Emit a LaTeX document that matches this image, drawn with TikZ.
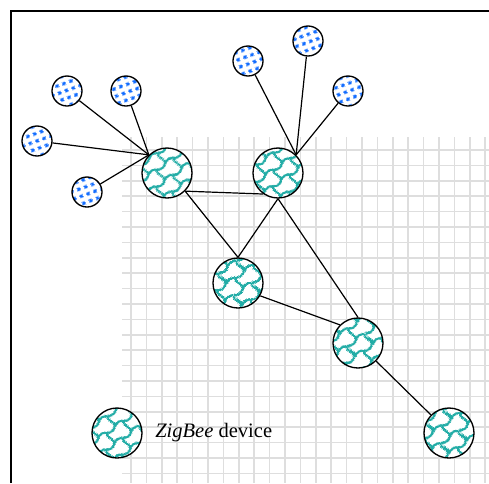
\documentclass[tikz,border=0pt]{standalone}
\usepackage{fontspec}
\setmainfont{Liberation Serif}
\usetikzlibrary{patterns.meta}

\definecolor{zteal}{RGB}{34,172,166}
\definecolor{zblue}{RGB}{20,110,255}
\definecolor{gridgray}{RGB}{222,222,222}

% small square dots, tilted lattice (end devices)
\tikzdeclarepattern{
  name=zbdots, type=uncolored,
  bottom left={(0pt,0pt)}, top right={(5.6pt,5.6pt)},
  tile size={(5.6pt,5.6pt)},
  tile transformation={rotate=20},
  code={\fill (1.3pt,1.3pt) rectangle (4.2pt,4.2pt);}
}

% wavy brick scales (ZigBee devices)
\tikzdeclarepattern{
  name=zscales, type=uncolored,
  bottom left={(0pt,0pt)}, top right={(16pt,20pt)},
  tile size={(16pt,20pt)},
  tile transformation={rotate=35},
  code={
    \draw[line width=1.8pt]
      (0pt,5pt) .. controls (2.7pt,7pt) and (5.3pt,7pt) .. (8pt,5pt)
                .. controls (10.7pt,3pt) and (13.3pt,3pt) .. (16pt,5pt)
      (0pt,15pt) .. controls (2.7pt,13pt) and (5.3pt,13pt) .. (8pt,15pt)
                 .. controls (10.7pt,17pt) and (13.3pt,17pt) .. (16pt,15pt)
      (0pt,5pt) .. controls (3pt,8pt) and (-3pt,12pt) .. (0pt,15pt)
      (16pt,5pt) .. controls (19pt,8pt) and (13pt,12pt) .. (16pt,15pt)
      (8pt,15pt) .. controls (11pt,18pt) and (5pt,22pt) .. (8pt,25pt)
      (8pt,-5pt) .. controls (11pt,-2pt) and (5pt,2pt) .. (8pt,5pt);
  }
}

\tikzset{
  zbdev/.style={circle, draw, line width=1pt, minimum size=37.5pt, inner sep=0pt,
    preaction={fill=white}, pattern=zscales, pattern color=zteal},
  enddev/.style={circle, draw, line width=1pt, minimum size=22.5pt, inner sep=0pt,
    preaction={fill=white}, pattern=zbdots, pattern color=zblue},
  link/.style={line width=0.9pt},
  gridline/.style={draw=gridgray, line width=1.3pt}
}

\begin{document}
\begin{tikzpicture}[x=0.75pt, y=-0.75pt]
\useasboundingbox (0,0) rectangle (489,483);

% background grid
\foreach \i in {0,...,23}
  \draw[gridline] ({131+15.4*\i},137) -- ({131+15.4*\i},483);
\foreach \j in {0,...,21}
  \draw[gridline] (122,{150+15.4*\j}) -- (489,{150+15.4*\j});

% frame
\draw[line width=1.5pt] (11,483) -- (11,11) -- (489,11);

% ZigBee devices
\node[zbdev] (A) at (167,173) {};
\node[zbdev] (B) at (278,173) {};
\node[zbdev] (C) at (238,283) {};
\node[zbdev] (D) at (358,343) {};
\node[zbdev] (E) at (449,433) {};

% end devices
\node[enddev] (s1) at (67,91) {};
\node[enddev] (s2) at (126,91) {};
\node[enddev] (s3) at (37,141) {};
\node[enddev] (s4) at (87,192) {};
\node[enddev] (s5) at (248,61) {};
\node[enddev] (s6) at (308,41) {};
\node[enddev] (s7) at (348,91) {};

% links
\foreach \s in {s1,s2,s3,s4} \draw[link] (\s) -- (A.north west);
\foreach \s in {s5,s6,s7} \draw[link] (\s) -- (B.north east);
\draw[link] (A.south east) -- (B.235);
\draw[link] (A.south east) -- (C.north);
\draw[link] (B.south) -- (C.north);
\draw[link] (B.south) -- (D.north);
\draw[link] (C.-30) -- (D.north west);
\draw[link] (D.south east) -- (E.north west);

% legend
\node[zbdev] (L) at (117,433) {};
\node[anchor=base west, inner sep=0pt, font=\fontsize{15.4}{18}\selectfont] (Ltext) at (155,437) {\textit{ZigBee} device};
\end{tikzpicture}
\end{document}
